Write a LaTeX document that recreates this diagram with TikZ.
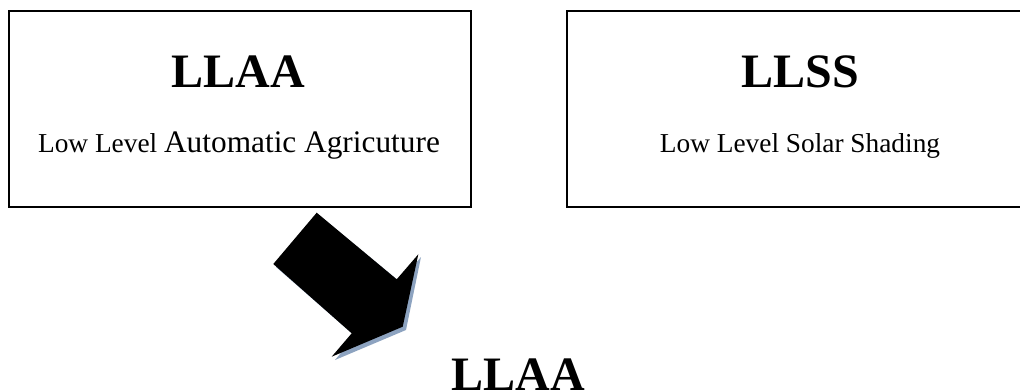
\documentclass[tikz,border=0pt]{standalone}
\usepackage{fontspec}
\setmainfont{Liberation Serif}
\tikzset{
  box/.style={draw=black, line width=1.4pt, inner sep=0pt},
  title/.style={font=\fontsize{36}{36}\selectfont\bfseries, anchor=base, inner sep=0pt},
  sub/.style={font=\fontsize{20.5}{21}\selectfont, anchor=base, inner sep=0pt},
  bigarrow/.style={fill=black},
  arrowshadow/.style={fill={rgb,255:red,141;green,163;blue,192}},
}
\begin{document}
\begin{tikzpicture}[x=0.75pt,y=-0.75pt]
\useasboundingbox (0,0) rectangle (1020,392);
\clip (0,0) rectangle (1020,392);
% boxes
\node[box, minimum width=462*0.75pt, minimum height=196*0.75pt] (b1) at (240,109) {};
\node[box, minimum width=466*0.75pt, minimum height=196*0.75pt] (b2) at (800,109) {};
% box texts
\node[title] (t1) at (238,88) {LLAA};
\node[sub] (s1) at (239,153) {Low Level {\fontsize{23.5}{24}\selectfont Automatic Agricuture}};
\node[title] (t2) at (800,88) {LLSS};
\node[sub] (s2) at (800,152) {Low Level Solar Shading};
% block arrow with shadow
\fill[arrowshadow] (320,216) -- (276,267) -- (355,336) -- (335,360) -- (406,330) -- (421,257) -- (400,282) -- cycle;
\fill[bigarrow] (316.7,212.7) -- (273.3,264) -- (351.7,333.3) -- (331.7,356.7) -- (402.7,326.7) -- (418.3,254.3) -- (396.7,279.3) -- cycle;
% bottom label
\node[title] (t3) at (518,390) {LLAA};
\end{tikzpicture}
\end{document}
